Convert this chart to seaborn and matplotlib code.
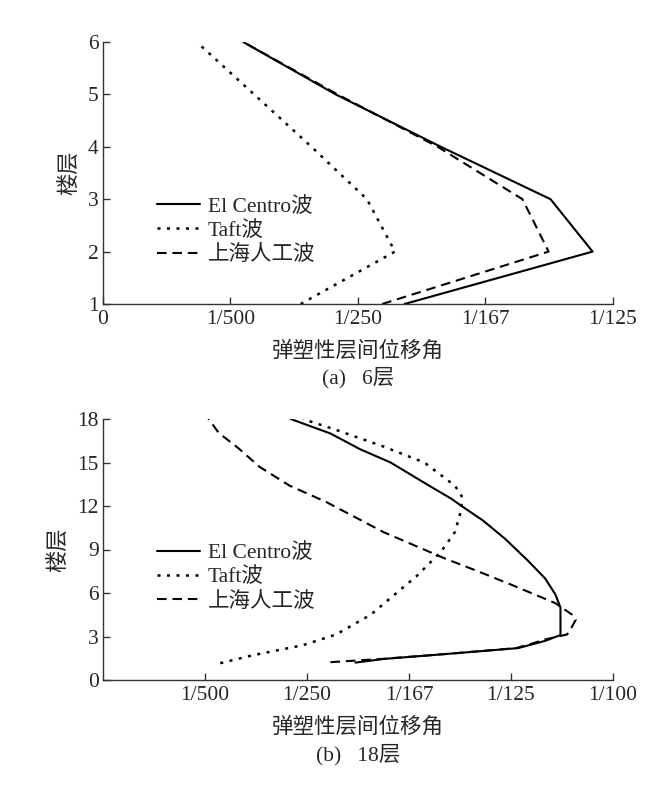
import numpy as np
import pandas as pd
import matplotlib
matplotlib.use("Agg")
import matplotlib.pyplot as plt
import seaborn as sns

sns.set_style("ticks")
FAM = ["Liberation Serif", "Noto Sans CJK SC"]
plt.rcParams["font.family"] = FAM
plt.rcParams["axes.unicode_minus"] = False

# ---------------- data ----------------
waves = ["El Centro波", "Taft波", "上海人工波"]

# (a) 6-storey: drift in units of 1e-3 rad, floors 1..6
floors_a = [1, 2, 3, 4, 5, 6]
elcentro_a = [4.73, 7.68, 7.02, 5.30, 3.65, 2.20]
taft_a = [3.10, 4.58, 4.14, 3.27, 2.37, 1.47]
shanghai_a = [4.38, 6.99, 6.58, 5.25, 3.68, 2.20]

# (b) 18-storey
floors_b_el = [1.2, 1.45, 1.8, 2.2, 2.7, 3.1, 4.0, 5.0, 5.9, 7.0, 8.2, 9.75, 11.0, 12.0, 12.5, 13.6, 15.0, 15.9, 17.0, 18.0]
elcentro_b = [4.95, 5.50, 6.75, 8.14, 8.67, 8.97, 8.97, 8.97, 8.87, 8.67, 8.34, 7.88, 7.45, 7.03, 6.83, 6.30, 5.64, 5.05, 4.46, 3.68]
floors_b_taft = [1.16, 1.7, 2.4, 3.14, 4.5, 5.66, 7.2, 8.86, 10.2, 11.8, 12.7, 13.4, 15.0, 16.1, 17.25, 18.0]
taft_b = [2.30, 2.93, 3.92, 4.57, 5.25, 5.64, 6.16, 6.63, 6.90, 7.03, 7.03, 6.90, 6.30, 5.50, 4.57, 3.92]
floors_b_sh = [1.23, 1.45, 1.8, 2.2, 2.5, 2.8, 3.14, 3.7, 4.16, 4.5, 5.3, 6.55, 7.5, 8.4, 10.2, 12.27, 13.4, 14.7, 16.0, 17.04, 18.06]
shanghai_b = [4.46, 5.45, 6.75, 8.10, 8.40, 8.67, 9.10, 9.20, 9.27, 9.20, 8.87, 8.02, 7.35, 6.69, 5.50, 4.38, 3.66, 3.07, 2.65, 2.27, 2.06]

xticks_a = [0, 0.002, 0.004, 0.006, 0.008]
xticklabels_a = ["0", "1/500", "1/250", "1/167", "1/125"]
yticks_a = [1, 2, 3, 4, 5, 6]
xticks_b = [0.002, 0.004, 0.006, 0.008, 0.010]
xticklabels_b = ["1/500", "1/250", "1/167", "1/125", "1/100"]
yticks_b = [0, 3, 6, 9, 12, 15, 18]

xlabel = "弹塑性层间位移角"
ylabel = "楼层"
captions = ["(a)   6层", "(b)   18层"]

styles = {
    "El Centro波": dict(linestyle="-", lw=1.5),
    "Taft波": dict(linestyle=(0, (1.2, 2.6)), lw=1.8),
    "上海人工波": dict(linestyle=(0, (4.6, 2.8)), lw=1.5),
}

def frame(floors, drifts, wave):
    return pd.DataFrame({"drift": np.array(drifts) * 1e-3, "floor": floors, "wave": wave})

df_a = pd.concat([frame(floors_a, elcentro_a, waves[0]),
                  frame(floors_a, taft_a, waves[1]),
                  frame(floors_a, shanghai_a, waves[2])])
df_b = pd.concat([frame(floors_b_el, elcentro_b, waves[0]),
                  frame(floors_b_taft, taft_b, waves[1]),
                  frame(floors_b_sh, shanghai_b, waves[2])])

fig = plt.figure(figsize=(6.71, 7.87), dpi=100)
ax_a = fig.add_axes([103/671, 1-304/787, 510/671, 262/787])
ax_b = fig.add_axes([103/671, 1-680/787, 510/671, 261/787])

FS = 15.5

def draw(ax, df, xlim, ylim, xticks, xtl, yticks, legend_anchor):
    for w in waves:
        sub = df[df["wave"] == w]
        sns.lineplot(data=sub, x="drift", y="floor", ax=ax, sort=False, orient="y",
                     estimator=None, color="black", label=w, **styles[w])
    ax.set_xlim(*xlim)
    ax.set_ylim(*ylim)
    ax.set_xticks(xticks)
    ax.set_xticklabels(xtl)
    ax.set_yticks(yticks)
    for s in ["top", "right"]:
        ax.spines[s].set_visible(False)
    for s in ["left", "bottom"]:
        ax.spines[s].set_color("#333333")
        ax.spines[s].set_linewidth(1.0)
    ax.tick_params(direction="in", length=5, width=1, color="#333333",
                   labelsize=FS, pad=3)
    ax.tick_params(axis="x", pad=4)
    ax.set_xlabel(xlabel, fontsize=15.5, family=FAM, labelpad=9)
    ax.set_ylabel(ylabel, fontsize=16, family=FAM, labelpad=6)
    ax.legend(loc="upper left", bbox_to_anchor=legend_anchor, frameon=False,
              prop=dict(family=FAM, size=FS), handlelength=2.0, handletextpad=0.35,
              labelspacing=0.2, borderpad=0, borderaxespad=0)
    ax.set_facecolor("white")

draw(ax_a, df_a, (0, 0.008), (1, 6), xticks_a, xticklabels_a, yticks_a, (0.106, 0.41))
draw(ax_b, df_b, (0, 0.010), (0, 18), xticks_b, xticklabels_b, yticks_b, (0.106, 0.525))

fig.text(358/671, 1-378/787, captions[0], ha="center", va="center", fontsize=15.5, family=FAM)
fig.text(358/671, 1-755/787, captions[1], ha="center", va="center", fontsize=15.5, family=FAM)

fig.savefig("out.png", dpi=100, facecolor="white")
